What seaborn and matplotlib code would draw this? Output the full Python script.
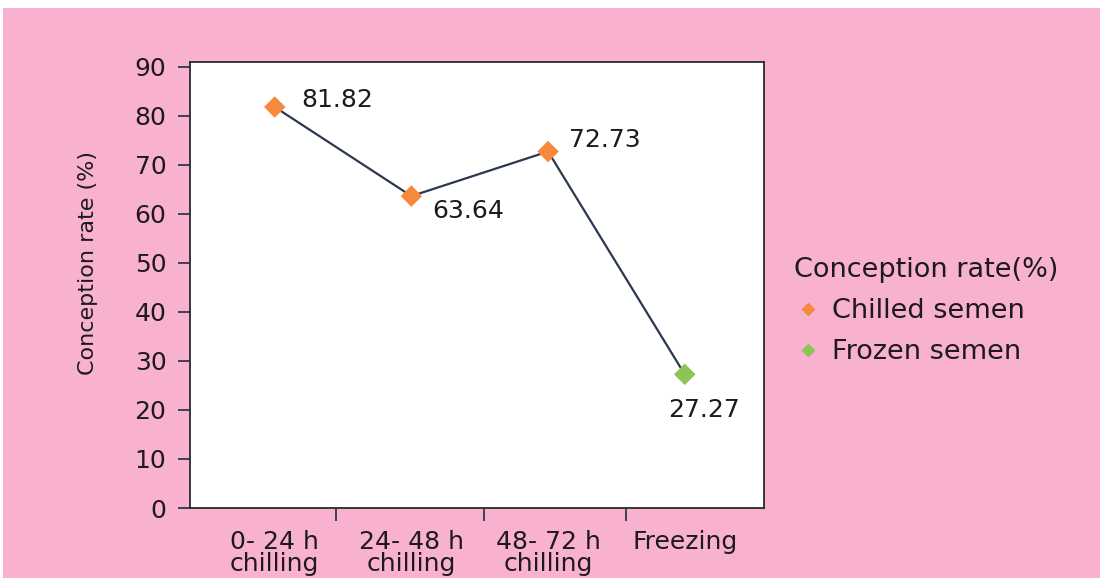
import numpy as np
import pandas as pd
import matplotlib
matplotlib.use("Agg")
import matplotlib.pyplot as plt
from matplotlib.patches import Rectangle
from matplotlib.lines import Line2D
import seaborn as sns

# data
categories = ["0- 24 h\nchilling", "24- 48 h\nchilling", "48- 72 h\nchilling", "Freezing"]
rates = [81.82, 63.64, 72.73, 27.27]
groups = ["Chilled semen", "Chilled semen", "Chilled semen", "Frozen semen"]
y_ticks = [0, 10, 20, 30, 40, 50, 60, 70, 80, 90]

df = pd.DataFrame({"pos": np.arange(len(categories)), "rate": rates, "group": groups})

sns.set_theme(style="white")
plt.rcParams["font.family"] = ["DejaVu Sans"]

pink = "#f8b2cf"
orange = "#f6893c"
green = "#8dc455"
line_col = "#2c3850"
text_col = "#1e1a1c"

fig = plt.figure(figsize=(11.08, 5.88), dpi=100, facecolor="white")
fig.patches.append(Rectangle((3 / 1108, 10 / 588), 1097 / 1108, 570 / 588,
                             transform=fig.transFigure, facecolor=pink,
                             edgecolor="none", zorder=-10))

ax = fig.add_axes([190 / 1108, 1 - 508 / 588, 574 / 1108, 446 / 588])
ax.set_facecolor("white")

sns.lineplot(data=df, x="pos", y="rate", color=line_col, linewidth=1.6, ax=ax,
             zorder=2, legend=False)
sns.scatterplot(data=df, x="pos", y="rate", hue="group", marker="D", s=120,
                palette={"Chilled semen": orange, "Frozen semen": green},
                edgecolor="none", ax=ax, zorder=3, legend=False)

# value labels
offsets = [(19, 5), (15, -11), (15, 8), (14, -26)]
for i, (v, (dx, dy)) in enumerate(zip(rates, offsets)):
    ha = "center" if i == 3 else "left"
    ax.annotate(f"{v:.2f}", (i, v), xytext=(dx, dy), textcoords="offset points",
                ha=ha, va="center", fontsize=18, color=text_col)

ax.set_xlim(-0.62, 3.58)
ax.set_ylim(0, 91)
ax.set_yticks(y_ticks)
ax.set_xticks(range(len(categories)))
ax.set_xticklabels(categories, fontsize=18, color=text_col, linespacing=0.9)
ax.set_xticks([0.45, 1.53, 2.57], minor=True)
ax.tick_params(axis="x", which="major", length=0, pad=16)
ax.tick_params(axis="x", which="minor", bottom=True, direction="out", length=9,
               width=1.3, color=line_col)
ax.tick_params(axis="y", left=True, direction="out", length=9, width=1.3,
               color=line_col, labelsize=18, labelcolor=text_col, pad=8)
ax.set_xlabel("")
ax.set_ylabel("Conception rate (%)", fontsize=16, color=text_col)
ax.yaxis.set_label_coords(-0.16, 0.55)

for sp in ax.spines.values():
    sp.set_visible(True)
    sp.set_color("#2a2a2a")
    sp.set_linewidth(1.3)

handles = [
    Line2D([], [], marker="D", linestyle="none", markersize=7, color=orange,
           markeredgecolor="none", label="Chilled semen"),
    Line2D([], [], marker="D", linestyle="none", markersize=7, color=green,
           markeredgecolor="none", label="Frozen semen"),
]
leg = fig.legend(handles=handles, title="Conception rate(%)", loc="upper left",
                 bbox_to_anchor=(770 / 1108, 1 - 233 / 588), frameon=False,
                 fontsize=19.5, title_fontsize=19.5, alignment="left",
                 handletextpad=0.4, labelspacing=0.55, handlelength=1.0)
for t in leg.get_texts():
    t.set_color(text_col)
leg.get_title().set_color(text_col)

fig.savefig("out.png", dpi=100, facecolor="white")
